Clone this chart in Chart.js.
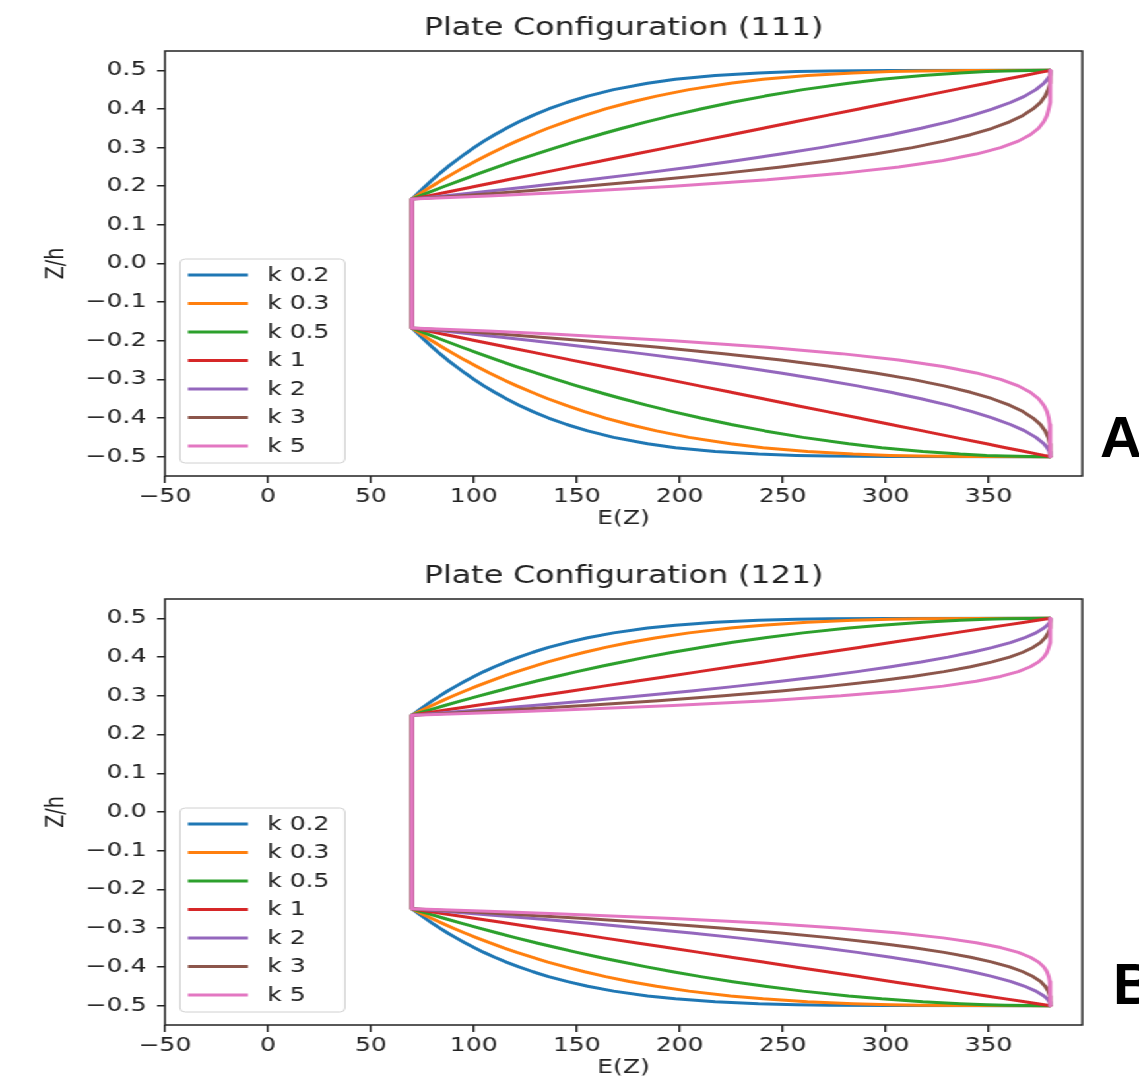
<!DOCTYPE html>
<html>
<head>
<meta charset="utf-8">
<title>Plate Configuration</title>
<script src="https://cdn.jsdelivr.net/npm/chart.js@4.4.1/dist/chart.umd.min.js"></script>
<style>
  html, body { margin: 0; padding: 0; background: #fff; overflow: hidden; }
  #page { position: relative; width: 1139px; height: 1088px; }
  /* the reference picture is stretched sideways, so the charts are drawn narrow and scaled */
  #stretch { position: absolute; left: 0; top: 0; width: 863px; height: 1088px;
             transform: scaleX(1.3198); transform-origin: 0 0; }
  #stretch canvas { position: absolute; left: 0; display: block; }
  .tag { position: absolute; font: bold 58px "Liberation Sans", Arial, sans-serif;
         line-height: 58px; color: #000; }
</style>
</head>
<body>
<div id="page">
  <div id="stretch">
    <canvas id="chartA" width="863" height="560" style="top:0"></canvas>
    <canvas id="chartB" width="863" height="528" style="top:560px"></canvas>
  </div>
  <div class="tag" style="left:1100px; top:408px">A</div>
  <div class="tag" style="left:1113px; top:955px">B</div>
</div>

<script>
const LABELS = ["k 0.2", "k 0.3", "k 0.5", "k 1", "k 2", "k 3", "k 5"];
const COLORS = ["#1f77b4", "#ff7f0e", "#2ca02c", "#d62728", "#9467bd", "#8c564b", "#e377c2"];
const X_TICKS = [-50, 0, 50, 100, 150, 200, 250, 300, 350];
const Y_TICKS = [-0.5, -0.4, -0.3, -0.2, -0.1, 0, 0.1, 0.2, 0.3, 0.4, 0.5];

// Z/h of the sampled points, from the outer surface to the core edge
const zTopA = [0.5, 0.4997, 0.4983, 0.4967, 0.4933, 0.4867, 0.4767, 0.4667, 0.45, 0.4333,
               0.4167, 0.4, 0.3833, 0.3667, 0.35, 0.3333, 0.3167, 0.3, 0.2833, 0.2667,
               0.25, 0.2333, 0.2167, 0.2, 0.1833, 0.175, 0.1667];
const zBotA = [-0.5, -0.4997, -0.4983, -0.4967, -0.4933, -0.4867, -0.4767, -0.4667, -0.45, -0.4333,
               -0.4167, -0.4, -0.3833, -0.3667, -0.35, -0.3333, -0.3167, -0.3, -0.2833, -0.2667,
               -0.25, -0.2333, -0.2167, -0.2, -0.1833, -0.175, -0.1667];
const zTopB = [0.5, 0.4998, 0.4988, 0.4975, 0.495, 0.49, 0.4825, 0.475, 0.4625, 0.45,
               0.4375, 0.425, 0.4125, 0.4, 0.3875, 0.375, 0.3625, 0.35, 0.3375, 0.325,
               0.3125, 0.3, 0.2875, 0.275, 0.2625, 0.2563, 0.25];
const zBotB = [-0.5, -0.4998, -0.4988, -0.4975, -0.495, -0.49, -0.4825, -0.475, -0.4625, -0.45,
               -0.4375, -0.425, -0.4125, -0.4, -0.3875, -0.375, -0.3625, -0.35, -0.3375, -0.325,
               -0.3125, -0.3, -0.2875, -0.275, -0.2625, -0.2563, -0.25];

// E(Z) at those points, one list per k (same order as the z lists)
const eK02 = [380, 302.1, 272.6, 256.6, 238.2, 217.2, 197.9, 184.4, 167.9, 155.3,
              145.1, 136.3, 128.7, 121.9, 115.8, 110.1, 104.9, 100.1, 95.6, 91.4,
              87.3, 83.5, 79.9, 76.5, 73.2, 71.6, 70];
const eK03 = [380, 341.0, 316.8, 302.1, 284.1, 262.0, 240.4, 224.6, 204.5, 188.7,
              175.5, 164.0, 153.8, 144.5, 136.0, 128.2, 120.9, 114.1, 107.6, 101.5,
              95.6, 90.1, 84.8, 79.6, 74.7, 72.3, 70];
const eK05 = [380, 370.2, 358.1, 349.0, 336.2, 318.0, 298.0, 282.0, 259.9, 241.4,
              225.0, 210.2, 196.6, 183.9, 172.1, 160.8, 150.1, 139.9, 130.1, 120.6,
              111.5, 102.7, 94.2, 85.9, 77.8, 73.9, 70];
const eK1 = [380, 379.7, 378.5, 376.9, 373.8, 367.6, 358.3, 349.0, 333.5, 318.0,
             302.5, 287.0, 271.5, 256.0, 240.5, 225.0, 209.5, 194.0, 178.5, 163.0,
             147.5, 132.0, 116.5, 101.0, 85.5, 77.8, 70];
const eK2 = [380, 380, 380, 380, 379.9, 379.5, 378.5, 376.9, 373.0, 367.6,
             360.6, 352.1, 342.0, 330.4, 317.2, 302.5, 286.2, 268.4, 249.0, 228.1,
             205.6, 181.6, 156.0, 128.9, 100.2, 85.3, 70];
const eK3 = [380, 380, 380, 380, 380, 380, 379.9, 379.7, 379.0, 377.5,
             375.2, 371.6, 366.7, 360.2, 351.8, 341.3, 328.4, 313.0, 294.9, 273.7,
             249.2, 221.3, 189.6, 154.0, 114.2, 92.7, 70];
const eK5 = [380, 380, 380, 380, 380, 380, 380, 380, 380, 379.9,
             379.7, 379.2, 378.4, 376.8, 374.3, 370.3, 364.4, 355.9, 344.0, 327.9,
             306.4, 278.4, 242.5, 196.9, 140.1, 106.9, 70];
const E_SERIES = [eK02, eK03, eK05, eK1, eK2, eK3, eK5];

Chart.defaults.font.family = '"DejaVu Sans", sans-serif';
Chart.defaults.font.size = 19;
Chart.defaults.color = "#222";

function minusSign(text) {
  return String(text).replace("-", "\u2212");
}

function makeDatasets(zTop, zBot) {
  return LABELS.map((label, i) => {
    const e = E_SERIES[i];
    const top = zTop.map((z, j) => ({ x: e[j], y: z }));
    const bottom = zBot.map((z, j) => ({ x: e[j], y: z })).reverse();
    return {
      label: label,
      data: top.concat(bottom),
      borderColor: COLORS[i],
      backgroundColor: COLORS[i],
      borderWidth: 3,
      borderJoinStyle: "round",
      pointRadius: 0,
      tension: 0,
      fill: false,
      // matplotlib puts the last curve on top
      order: LABELS.length - 1 - i,
    };
  });
}

// frame, title, axis labels and the boxed legend inside the plot
const plateDecor = {
  id: "plateDecor",
  afterDraw(chart, args, opts) {
    const ctx = chart.ctx;
    const a = chart.chartArea;
    const midX = (a.left + a.right) / 2;
    ctx.save();

    ctx.strokeStyle = "#222";
    ctx.lineWidth = 1.5;
    ctx.strokeRect(a.left, a.top, a.right - a.left, a.bottom - a.top);

    ctx.fillStyle = "#222";
    ctx.textAlign = "center";
    ctx.textBaseline = "middle";
    ctx.font = '24px "DejaVu Sans"';
    ctx.fillText(opts.title, midX, opts.titleY);

    ctx.font = '19px "DejaVu Sans"';
    ctx.fillText("E(Z)", midX, opts.xLabelY);
    ctx.save();
    ctx.translate(opts.yLabelX, (a.top + a.bottom) / 2);
    ctx.rotate(-Math.PI / 2);
    ctx.fillText("Z/h", 0, 0);
    ctx.restore();

    // legend box
    const boxL = a.left + 11.4;
    const boxW = 125;
    const boxT = a.bottom - 217;
    const boxH = 204;
    ctx.beginPath();
    ctx.roundRect(boxL, boxT, boxW, boxH, 4);
    ctx.fillStyle = "rgba(255,255,255,0.85)";
    ctx.fill();
    ctx.strokeStyle = "#d0d0d0";
    ctx.lineWidth = 1;
    ctx.stroke();

    ctx.textAlign = "left";
    LABELS.forEach((label, i) => {
      const y = boxT + 16 + 28.5 * i;
      ctx.beginPath();
      ctx.moveTo(boxL + 6, y);
      ctx.lineTo(boxL + 51.5, y);
      ctx.strokeStyle = COLORS[i];
      ctx.lineWidth = 3;
      ctx.stroke();
      ctx.fillStyle = "#222";
      ctx.fillText(label, boxL + 66, y + 1);
    });

    ctx.restore();
  },
};

function makeChart(id, zTop, zBot, decor, padTop, xAxisH) {
  const canvas = document.getElementById(id);
  return new Chart(canvas.getContext("2d"), {
    type: "line",
    data: { datasets: makeDatasets(zTop, zBot) },
    options: {
      responsive: false,
      animation: false,
      devicePixelRatio: 1,
      layout: { padding: { top: padTop, right: 43, left: 0, bottom: 0 } },
      plugins: {
        legend: { display: false },
        title: { display: false },
        tooltip: { enabled: false },
        plateDecor: decor,
      },
      scales: {
        x: {
          type: "linear",
          min: -50,
          max: 395.5,
          afterBuildTicks: (scale) => {
            scale.ticks = X_TICKS.map((v) => ({ value: v }));
          },
          afterFit: (scale) => {
            scale.height = xAxisH;
          },
          ticks: {
            padding: 3,
            maxRotation: 0,
            autoSkip: false,
            callback: (value) => minusSign(value),
          },
          grid: { drawOnChartArea: false, drawTicks: true, tickLength: 7, color: "#222", lineWidth: 1.5 },
          border: { display: false },
        },
        y: {
          type: "linear",
          min: -0.55,
          max: 0.55,
          afterBuildTicks: (scale) => {
            scale.ticks = Y_TICKS.map((v) => ({ value: v }));
          },
          afterFit: (scale) => {
            scale.width = 125;
          },
          ticks: {
            padding: 8,
            autoSkip: false,
            callback: (value) => minusSign(Number(value).toFixed(1)),
          },
          grid: { drawOnChartArea: false, drawTicks: true, tickLength: 6, color: "#222", lineWidth: 1.5 },
          border: { display: false },
        },
      },
    },
    plugins: [plateDecor],
  });
}

makeChart("chartA", zTopA, zBotA,
  { title: "Plate Configuration (111)", titleY: 28.5, xLabelY: 519, yLabelX: 43 }, 51, 84);
makeChart("chartB", zTopB, zBotB,
  { title: "Plate Configuration (121)", titleY: 16.5, xLabelY: 508, yLabelX: 43 }, 39, 63);
</script>
</body>
</html>
